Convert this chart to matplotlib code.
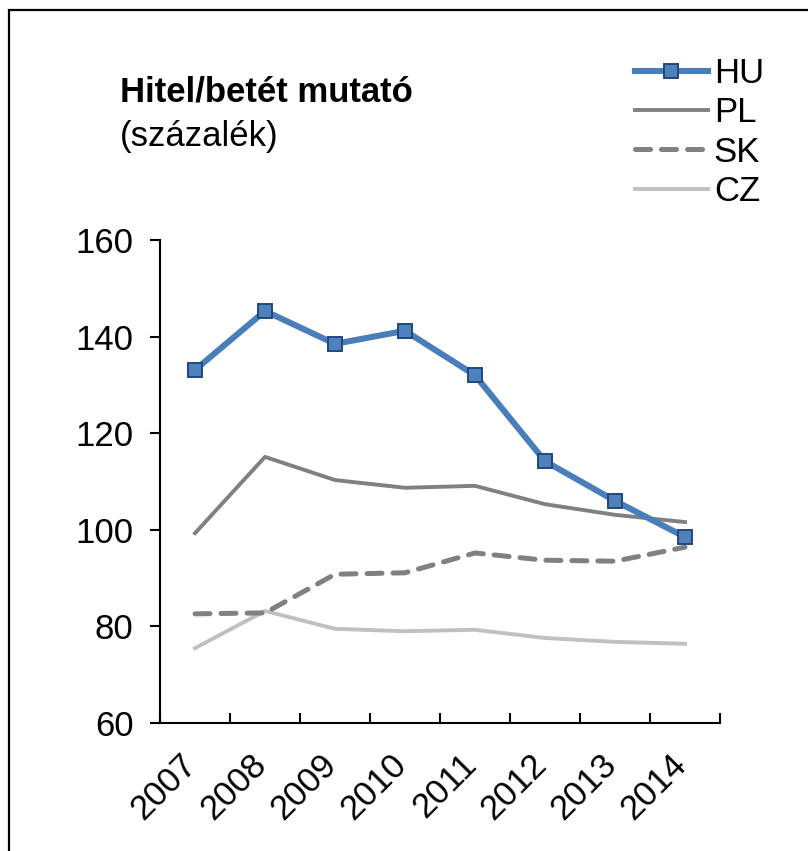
import matplotlib
matplotlib.use("Agg")
import matplotlib.pyplot as plt
from matplotlib.patches import Rectangle
from matplotlib.ticker import FixedLocator
from matplotlib.transforms import ScaledTranslation

plt.rcParams['font.family'] = ['Liberation Sans', 'DejaVu Sans']

# Data (percent)
years = ['2007', '2008', '2009', '2010', '2011', '2012', '2013', '2014']
hu = [133.1, 145.3, 138.5, 141.2, 132.0, 114.2, 106.0, 98.5]
pl = [99.3, 115.1, 110.3, 108.7, 109.1, 105.3, 103.1, 101.6]
sk = [82.6, 82.8, 90.8, 91.1, 95.2, 93.7, 93.5, 96.4]
cz = [75.5, 83.2, 79.5, 79.0, 79.3, 77.6, 76.8, 76.4]

FS = 25

fig = plt.figure(figsize=(8.08, 8.51), dpi=100)
ax = fig.add_axes([160/808, 1 - 723/851, 560/808, 483/851])

x = list(range(len(years)))
ax.plot(x, hu, color='#4A7EBB', lw=4.4, marker='s', markersize=9.5,
        markerfacecolor='#4F81BD', markeredgecolor='#1F497D', markeredgewidth=1.4,
        label='HU', zorder=5)
ax.plot(x, pl, color='#808080', lw=2.8, label='PL', zorder=4)
ax.plot(x, sk, color='#808080', lw=3.6, ls=(0, (3.0, 2.2)), dash_capstyle='round',
        label='SK', zorder=3)
ax.plot(x, cz, color='#C0C0C0', lw=2.8, label='CZ', zorder=2)

ax.set_xlim(-0.5, len(years) - 0.5)
ax.set_ylim(60, 160)
ax.set_yticks(range(60, 161, 20))

# labels: upper-right end of the rotated text sits under the category centre
ax.set_xticks(x)
ax.set_xticklabels(years, rotation=45, ha='right', va='top', rotation_mode='default')
ax.xaxis.set_minor_locator(FixedLocator([i - 0.5 for i in range(len(years) + 1)]))
ax.tick_params(axis='x', which='major', length=0, labelsize=FS, pad=15)
ax.tick_params(axis='x', which='minor', direction='in', length=7, width=1.5)
ax.tick_params(axis='y', direction='out', length=7, width=1.5, labelsize=FS, pad=12)
shift = ScaledTranslation(8/100, -4/100, fig.dpi_scale_trans)
for lab in ax.get_xticklabels():
    lab.set_transform(lab.get_transform() + shift)

for s in ['top', 'right']:
    ax.spines[s].set_visible(False)
for s in ['left', 'bottom']:
    ax.spines[s].set_linewidth(1.5)

fig.text(120/808, 1 - 102/851, 'Hitel/betét mutató', fontsize=FS, fontweight='bold',
         va='baseline', ha='left')
fig.text(120/808, 1 - 146/851, '(százalék)', fontsize=FS, va='baseline', ha='left')

fig.legend(loc='upper left', bbox_to_anchor=(635/808, 1 - 57/851), frameon=False,
           fontsize=FS, handlelength=2.1, handletextpad=0.17, labelspacing=0.18,
           borderpad=0, borderaxespad=0)

fig.patches.append(Rectangle((9/808, -0.1), 1.2, 1.1 - 10/851, transform=fig.transFigure,
                             fill=False, lw=1.6, edgecolor='black'))

fig.savefig('out.png', dpi=100)
